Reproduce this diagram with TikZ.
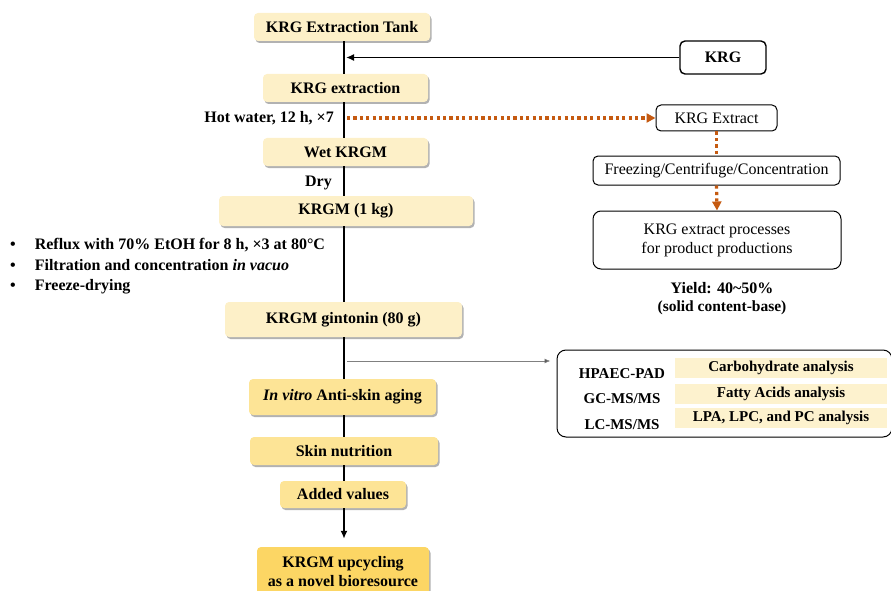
\documentclass[tikz,border=0pt]{standalone}
\usepackage{fontspec}
\setmainfont{Liberation Serif}
\usetikzlibrary{arrows.meta,shadows}
\definecolor{KRGCream}{RGB}{253,240,200}
\definecolor{KRGYellow}{RGB}{253,228,150}
\definecolor{KRGGold}{RGB}{252,214,100}
\definecolor{KRGBar}{RGB}{253,242,206}
\definecolor{KRGOrange}{RGB}{197,90,17}

\begin{document}
\begin{tikzpicture}[x=1pt, y=-1pt,
  flowbox/.style={rounded corners=4pt, fill=KRGCream, inner sep=0pt, align=center,
    font=\fontsize{16}{19}\selectfont\bfseries,
    drop shadow={shadow xshift=1.5pt, shadow yshift=-2pt, opacity=0.3, fill=black}},
  whitebox/.style={draw=black, line width=1pt, rounded corners=5pt, fill=white, inner sep=0pt,
    align=center, font=\fontsize{16}{19}\selectfont},
  barbox/.style={fill=KRGBar, inner sep=0pt, font=\fontsize{15}{18}\selectfont\bfseries},
  sidetext/.style={inner sep=0pt, font=\fontsize{16}{19}\selectfont\bfseries},
  spineline/.style={line width=2.4pt, black},
  orangedot/.style={KRGOrange, line width=3.2pt, dash pattern=on 3.2pt off 3.2pt},
  orangetip/.style={-{Triangle[length=9pt, width=9pt]}}]
\useasboundingbox (0,0) rectangle (891,591);
\coordinate (sp) at (344,0); % x of main line

% main column
\node[flowbox, minimum width=176pt, minimum height=28pt] (tank) at (342,27) {KRG Extraction Tank};
\node[flowbox, minimum width=165pt, minimum height=28pt] (ext) at (345.5,88) {KRG extraction};
\node[flowbox, minimum width=165pt, minimum height=28pt] (wet) at (345.5,152) {Wet KRGM};
\node[flowbox, minimum width=254pt, minimum height=30pt] (kg) at (346,211) {KRGM (1 kg)};
\node[flowbox, minimum width=237pt, minimum height=35pt] (gint) at (343.5,319.5) {KRGM gintonin (80 g)};
\node[flowbox, fill=KRGYellow, minimum width=187pt, minimum height=36pt] (vitro) at (342.5,397) {\textit{In vitro} Anti-skin aging};
\node[flowbox, fill=KRGYellow, minimum width=188pt, minimum height=28pt] (nutr) at (344,451) {Skin nutrition};
\node[flowbox, fill=KRGYellow, minimum width=126pt, minimum height=27pt] (added) at (343,494.5) {Added values};
\node[flowbox, fill=KRGGold, minimum width=172pt, minimum height=50pt] (upc) at (343,572) {KRGM upcycling\\as a novel bioresource};

\foreach \a/\b in {tank/ext, ext/wet, wet/kg, kg/gint, gint/vitro, vitro/nutr, nutr/added}
  \draw[spineline] (\a.south -| sp) -- (\b.north -| sp);
\draw[spineline, -{Latex[length=8pt, width=7pt]}, shorten >=8pt] (added.south -| sp) -- (upc.north -| sp);

% side labels
\node[sidetext, anchor=east] (hot) at (334,118) {Hot water, 12 h, ×7};
\node[sidetext, anchor=east] (dry) at (332,183) {Dry};
\node[sidetext, anchor=west, align=left, font=\fontsize{16}{20.5}\selectfont\bfseries] (cond) at (10,266)
  {\begin{tabular}{@{}l@{\hspace{19pt}}l@{}}
   \textbullet & Reflux with 70\% EtOH for 8 h, ×3 at 80°C\\
   \textbullet & Filtration and concentration \textit{in vacuo}\\
   \textbullet & Freeze-drying
   \end{tabular}};

% right branch
\node[whitebox, line width=1.4pt, font=\fontsize{16}{19}\selectfont\bfseries, minimum width=86pt, minimum height=33pt] (krg) at (723,57.5) {KRG};
\draw[line width=1.8pt, -{Latex[length=8pt, width=7pt]}, shorten >=2pt] (krg.west) -- (krg.west -| sp);

\node[whitebox, minimum width=121pt, minimum height=26pt] (kext) at (716.5,118) {KRG Extract};
\node[whitebox, minimum width=247pt, minimum height=29pt] (freeze) at (716.5,170.5) {Freezing/Centrifuge/Concentration};
\node[whitebox, rounded corners=8pt, minimum width=248pt, minimum height=58pt] (proc) at (717,240) {KRG extract processes\\for product productions};
\node[sidetext, align=center] (yield) at (722,299) {Yield: 40\textasciitilde50\%\\[-1pt]{\fontsize{15.5}{18}\selectfont(solid content-base)}};

\draw[orangedot, orangetip] ([xshift=3pt]kext.west -| sp) -- (kext.west);
\draw[orangedot] (kext.south) -- (freeze.north);
\draw[orangedot, orangetip] (freeze.south) -- (proc.north);

% analysis box
\node[whitebox, rounded corners=9pt, minimum width=335pt, minimum height=87pt] (an) at (724.5,393.5) {};
\node[barbox, minimum width=212pt, minimum height=20pt] (carb) at (781,368) {Carbohydrate analysis};
\node[barbox, minimum width=212pt, minimum height=20pt] (fatty) at (781,393.5) {Fatty Acids analysis};
\node[barbox, minimum width=212pt, minimum height=20pt] (lpa) at (781,418) {LPA, LPC, and PC analysis};
\node[barbox, fill=none] (hpaec) at (622,374) {HPAEC-PAD};
\node[barbox, fill=none] (gcms) at (622,399) {GC-MS/MS};
\node[barbox, fill=none] (lcms) at (622,425) {LC-MS/MS};

\coordinate (tap) at (347,361);
\draw[gray, line width=0.9pt, -{Latex[length=6pt, width=5pt, fill=black!80]}, shorten >=6pt] (tap) -- (tap -| an.west);

\end{tikzpicture}
\end{document}
